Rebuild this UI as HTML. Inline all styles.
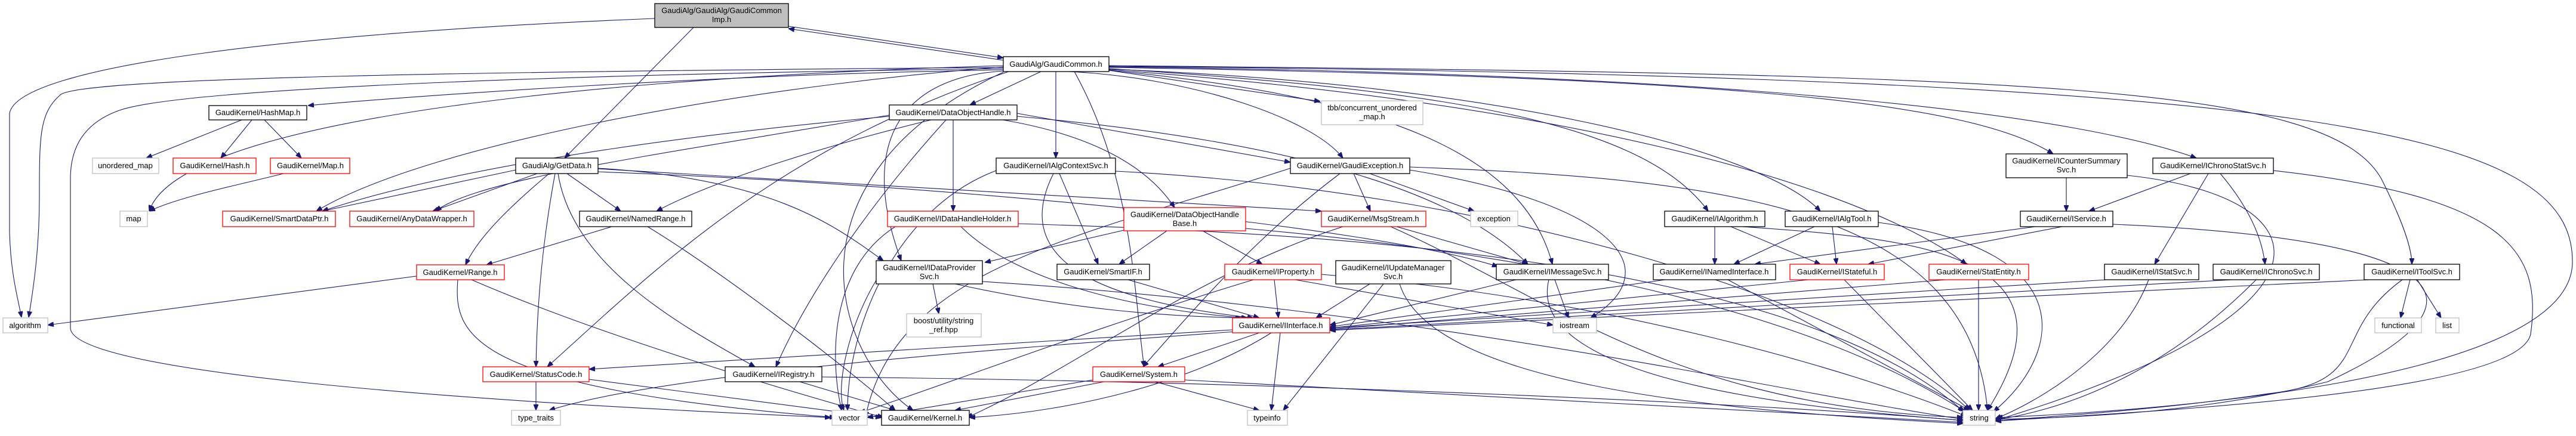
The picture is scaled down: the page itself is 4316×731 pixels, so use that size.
<!DOCTYPE html>
<html><head><meta charset="utf-8"><style>
html,body{margin:0;padding:0;background:#fff;width:4316px;height:731px;overflow:hidden}
svg{display:block}
path{fill:none;stroke:#191970;stroke-width:1.1}
rect{stroke-width:1.3}
.b{fill:#fff;stroke:#000}
.r{fill:#fff;stroke:#ff0000}
.g{fill:#fff;stroke:#bfbfbf}
text{font-family:"Liberation Sans",sans-serif;font-size:13px;fill:#000;text-anchor:middle}
</style></head><body>
<svg width="4316" height="731" viewBox="0 0 4316 731" xmlns="http://www.w3.org/2000/svg">
<defs><marker id="a" viewBox="0 0 10 8" refX="10" refY="4" markerWidth="10" markerHeight="8" markerUnits="userSpaceOnUse" orient="auto"><path d="M0,0 L10,4 L0,8 z" style="fill:#191970;stroke:#191970"/></marker></defs>
<g marker-end="url(#a)">
<!-- Imp -->
<path d="M1321,44 L1681,97"/>
<path d="M1681,101 L1321,48"/>
<path d="M1162,46 L946,265"/>
<path d="M1097,31 C500,55 30,110 16,190 L16,390 C18,460 30,500 36,532"/>
<!-- GC -->
<path d="M1681,113 C800,120 120,130 100,160 C66,190 66,230 66,330 C66,420 55,490 48,532"/>
<path d="M1681,115 C900,125 300,150 200,185 C130,210 118,260 118,300 L118,550 C120,620 700,670 1392,700"/>
<path d="M1681,117 C1200,125 700,160 516,177"/>
<path d="M1744,120 L1625,176"/>
<path d="M1769,120 L1769,265"/>
<path d="M1790,120 C2000,130 2200,200 2250,265"/>
<path d="M1858,118 L2212,170"/>
<path d="M1681,119 C1500,130 1440,250 1510,437"/>
<path d="M1681,112 C1200,150 700,250 530,354"/>
<path d="M1681,110 C1000,130 300,200 250,354"/>
<path d="M1690,120 C1300,250 1100,450 917,615"/>
<path d="M1681,121 C1300,300 1400,600 1530,688"/>
<path d="M1800,120 C1900,300 1900,500 1917,615"/>
<path d="M1858,118 C2300,160 2550,250 2601,443"/>
<path d="M1858,115 C2400,150 2750,200 2862,354"/>
<path d="M1858,116 C2500,140 2950,250 3050,354"/>
<path d="M1858,117 C2600,170 3100,300 3295,443"/>
<path d="M1858,113 C2900,130 3300,170 3440,258"/>
<path d="M1858,112 C3000,125 3500,200 3680,265"/>
<path d="M1858,110 C3400,125 3900,140 3990,300 C4030,380 4041,420 4041,443"/>
<path d="M1858,111 C3900,130 4312,220 4310,440 C4308,640 3600,690 3345,700"/>
<!-- HashMap -->
<path d="M405,201 L245,265"/>
<path d="M422,201 L370,265"/>
<path d="M443,201 L505,265"/>
<path d="M475,291 C400,310 300,330 250,354"/>
<!-- DOH -->
<path d="M1597,201 L1597,354"/>
<path d="M1680,201 C1850,230 1930,290 1968,348"/>
<path d="M1704,190 L2162,272"/>
<path d="M1560,201 C1400,240 1200,300 1100,354"/>
<path d="M1490,195 C1000,240 700,300 540,354"/>
<path d="M1490,193 C1100,260 800,300 730,354"/>
<path d="M1585,201 C1450,350 1350,500 1300,615"/>
<path d="M1704,195 C2200,240 2450,330 2560,443"/>
<!-- GetData -->
<path d="M864,285 L540,354"/>
<path d="M900,291 L725,354"/>
<path d="M950,291 L1040,354"/>
<path d="M920,291 C850,350 800,400 780,444"/>
<path d="M930,291 C910,400 900,500 898,615"/>
<path d="M935,291 C960,450 1150,550 1265,615"/>
<path d="M1002,282 C1300,300 1400,380 1480,437"/>
<path d="M1002,283 L2214,354"/>
<path d="M1002,288 C1600,310 2300,380 2510,447"/>
<!-- NamedRange, Range -->
<path d="M1025,380 L815,444"/>
<path d="M1085,380 C1200,450 1400,600 1500,688"/>
<path d="M720,460 L80,545"/>
<path d="M767,469 C760,560 780,650 1400,700"/>
<path d="M790,469 C1000,560 1300,650 1480,700"/>
<!-- StatusCode, IRegistry -->
<path d="M898,640 L898,688"/>
<path d="M987,636 L1477,700"/>
<path d="M1340,640 L1500,688"/>
<path d="M1377,632 C2200,640 3000,680 3289,705"/>
<!-- IDPS -->
<path d="M1563,476 L1573,526"/>
<path d="M1600,476 C1800,520 1950,530 2080,533"/>
<path d="M1646,472 C2400,520 3000,660 3289,703"/>
<path d="M1468,470 C1420,550 1400,650 1414,688"/>
<!-- IDHH, IAlgCtx -->
<path d="M1610,380 C1700,470 1900,520 2090,533"/>
<path d="M1500,380 C1390,450 1390,600 1410,688"/>
<path d="M1706,375 C2200,390 3000,430 3290,690"/>
<path d="M1775,291 L1840,443"/>
<path d="M1765,291 C1700,420 1800,500 2100,533"/>
<path d="M1669,286 C1500,350 1420,550 1420,688"/>
<path d="M1869,287 C2500,320 3100,500 3300,688"/>
<!-- DOHB, SmartIF, IProperty -->
<path d="M1955,387 L1875,443"/>
<path d="M2015,387 L2115,443"/>
<path d="M1883,386 L1650,440"/>
<path d="M2087,383 C2500,420 3000,500 3292,690"/>
<path d="M1890,469 L2110,533"/>
<path d="M2135,469 L2142,533"/>
<path d="M2170,469 L2602,545"/>
<path d="M2100,469 C1800,560 1600,640 1440,692"/>
<path d="M2214,460 C2700,500 3100,620 3295,698"/>
<!-- IInterface -->
<path d="M2110,558 L1940,615"/>
<path d="M2130,558 C2000,640 1800,690 1624,700"/>
<path d="M2145,558 L2130,688"/>
<path d="M2065,553 L987,619"/>
<path d="M2070,556 C1600,590 1100,630 920,688"/>
<!-- System -->
<path d="M1850,640 L1600,688"/>
<path d="M1935,640 L2110,688"/>
<path d="M1985,637 L3289,708"/>
<path d="M1831,637 L1453,700"/>
<!-- GExc -->
<path d="M2268,291 L2296,354"/>
<path d="M2295,291 L2470,354"/>
<path d="M2362,280 C2900,300 3300,350 3330,688"/>
<path d="M2362,285 C2700,340 2800,450 2665,533"/>
<path d="M2245,291 C2100,400 2000,520 1915,615"/>
<path d="M2162,282 C1800,400 1500,450 1450,700"/>
<!-- MsgStream -->
<path d="M2340,380 L2560,443"/>
<path d="M2330,380 C2600,500 2800,680 3289,700"/>
<path d="M2250,380 C2000,460 1800,620 1620,700"/>
<!-- IUMS -->
<path d="M2295,476 L2205,533"/>
<path d="M2318,476 L2150,688"/>
<path d="M2345,476 C2400,650 2900,690 3289,710"/>
<!-- IMessageSvc -->
<path d="M2540,469 L2228,545"/>
<path d="M2605,469 L2628,533"/>
<path d="M2595,469 C2550,650 3100,690 3290,705"/>
<!-- IAlgorithm, IAlgTool, INamed, IStateful, StatEntity -->
<path d="M2873,380 L2873,443"/>
<path d="M2900,380 L3050,443"/>
<path d="M2920,380 C3200,400 3500,420 3330,688"/>
<path d="M3040,380 L2905,443"/>
<path d="M3070,380 L3077,443"/>
<path d="M3147,373 C3500,420 3450,600 3340,690"/>
<path d="M2790,469 L2228,548"/>
<path d="M2895,469 L3300,688"/>
<path d="M3030,469 L2228,550"/>
<path d="M3090,469 L3305,688"/>
<path d="M3315,469 L3315,688"/>
<path d="M3260,469 L2228,552"/>
<!-- ICSS, IChronoStat, IService -->
<path d="M3462,298 L3462,354"/>
<path d="M3564,294 C3900,330 3950,520 3343,705"/>
<path d="M3670,291 L3500,354"/>
<path d="M3700,291 L3610,443"/>
<path d="M3720,291 C3770,350 3790,400 3795,443"/>
<path d="M3809,286 C4200,330 4260,420 4240,560 C4220,660 3600,690 3343,706"/>
<path d="M3410,380 L2940,443"/>
<path d="M3455,380 L3130,443"/>
<path d="M3540,376 C4100,400 4200,500 3900,640 C3700,690 3500,700 3343,703"/>
<!-- IStatSvc, IChronoSvc, IToolSvc -->
<path d="M3530,469 L2228,550"/>
<path d="M3600,469 C3550,600 3400,680 3343,702"/>
<path d="M3740,469 L2228,553"/>
<path d="M3780,469 C3650,600 3500,680 3343,704"/>
<path d="M4038,469 L4022,533"/>
<path d="M4050,469 L4090,533"/>
<path d="M3970,469 L2228,554"/>
<path d="M4025,469 C3900,560 3980,640 3800,660 C3600,690 3400,700 3343,706"/>
</g>
<!-- nodes -->
<rect x="1097" y="6" width="224" height="40" style="fill:#bfbfbf;stroke:#000"/>
<text x="1209" y="22">GaudiAlg/GaudiAlg/GaudiCommon</text><text x="1209" y="37">Imp.h</text>
<rect class="b" x="1681" y="95" width="177" height="25"/><text x="1769" y="112">GaudiAlg/GaudiCommon.h</text>
<rect class="b" x="350" y="177" width="164" height="24"/><text x="432" y="193">GaudiKernel/HashMap.h</text>
<rect class="b" x="1490" y="176" width="214" height="25"/><text x="1597" y="193">GaudiKernel/DataObjectHandle.h</text>
<rect class="g" x="2214" y="169" width="170" height="40"/><text x="2299" y="185">tbb/concurrent_unordered</text><text x="2299" y="200">_map.h</text>
<rect class="b" x="3361" y="258" width="203" height="40"/><text x="3462" y="274">GaudiKernel/ICounterSummary</text><text x="3462" y="289">Svc.h</text>
<rect class="g" x="155" y="265" width="111" height="26"/><text x="210" y="282">unordered_map</text>
<rect class="r" x="290" y="265" width="139" height="26"/><text x="360" y="282">GaudiKernel/Hash.h</text>
<rect class="r" x="453" y="265" width="133" height="26"/><text x="520" y="282">GaudiKernel/Map.h</text>
<rect class="b" x="864" y="265" width="138" height="26"/><text x="933" y="282">GaudiAlg/GetData.h</text>
<rect class="b" x="1669" y="265" width="200" height="26"/><text x="1769" y="282">GaudiKernel/IAlgContextSvc.h</text>
<rect class="b" x="2162" y="265" width="200" height="26"/><text x="2262" y="282">GaudiKernel/GaudiException.h</text>
<rect class="b" x="3607" y="265" width="202" height="26"/><text x="3708" y="282">GaudiKernel/IChronoStatSvc.h</text>
<rect class="g" x="201" y="354" width="46" height="26"/><text x="224" y="371">map</text>
<rect class="r" x="373" y="354" width="189" height="26"/><text x="468" y="371">GaudiKernel/SmartDataPtr.h</text>
<rect class="r" x="586" y="354" width="208" height="26"/><text x="690" y="371">GaudiKernel/AnyDataWrapper.h</text>
<rect class="b" x="971" y="354" width="188" height="26"/><text x="1065" y="371">GaudiKernel/NamedRange.h</text>
<rect class="r" x="1487" y="354" width="219" height="26"/><text x="1596" y="371">GaudiKernel/IDataHandleHolder.h</text>
<rect class="r" x="1883" y="348" width="204" height="39"/><text x="1985" y="364">GaudiKernel/DataObjectHandle</text><text x="1985" y="379">Base.h</text>
<rect class="r" x="2214" y="354" width="175" height="26"/><text x="2301" y="371">GaudiKernel/MsgStream.h</text>
<rect class="g" x="2464" y="354" width="79" height="26"/><text x="2503" y="371">exception</text>
<rect class="b" x="2789" y="354" width="168" height="26"/><text x="2873" y="371">GaudiKernel/IAlgorithm.h</text>
<rect class="b" x="2991" y="354" width="156" height="26"/><text x="3069" y="371">GaudiKernel/IAlgTool.h</text>
<rect class="b" x="3385" y="354" width="155" height="26"/><text x="3462" y="371">GaudiKernel/IService.h</text>
<rect class="b" x="1468" y="437" width="178" height="39"/><text x="1557" y="453">GaudiKernel/IDataProvider</text><text x="1557" y="468">Svc.h</text>
<rect class="b" x="1771" y="443" width="155" height="26"/><text x="1848" y="460">GaudiKernel/SmartIF.h</text>
<rect class="r" x="2052" y="443" width="162" height="26"/><text x="2133" y="460">GaudiKernel/IProperty.h</text>
<rect class="b" x="2238" y="437" width="193" height="39"/><text x="2334" y="453">GaudiKernel/IUpdateManager</text><text x="2334" y="468">Svc.h</text>
<rect class="b" x="2507" y="443" width="188" height="26"/><text x="2601" y="460">GaudiKernel/IMessageSvc.h</text>
<rect class="b" x="2770" y="443" width="205" height="26"/><text x="2872" y="460">GaudiKernel/INamedInterface.h</text>
<rect class="r" x="2999" y="443" width="158" height="26"/><text x="3078" y="460">GaudiKernel/IStateful.h</text>
<rect class="r" x="3232" y="443" width="167" height="26"/><text x="3315" y="460">GaudiKernel/StatEntity.h</text>
<rect class="b" x="3526" y="443" width="158" height="26"/><text x="3605" y="460">GaudiKernel/IStatSvc.h</text>
<rect class="b" x="3708" y="443" width="178" height="26"/><text x="3797" y="460">GaudiKernel/IChronoSvc.h</text>
<rect class="b" x="3961" y="443" width="160" height="26"/><text x="4041" y="460">GaudiKernel/IToolSvc.h</text>
<rect class="r" x="698" y="444" width="147" height="25"/><text x="771" y="461">GaudiKernel/Range.h</text>
<rect class="g" x="5" y="533" width="75" height="25"/><text x="42" y="550">algorithm</text>
<rect class="g" x="1519" y="526" width="125" height="39"/><text x="1581" y="542">boost/utility/string</text><text x="1581" y="557">_ref.hpp</text>
<rect class="r" x="2065" y="533" width="163" height="25"/><text x="2146" y="550">GaudiKernel/IInterface.h</text>
<rect class="g" x="2602" y="533" width="73" height="25"/><text x="2638" y="550">iostream</text>
<rect class="g" x="3979" y="533" width="78" height="25"/><text x="4018" y="550">functional</text>
<rect class="g" x="4081" y="533" width="39" height="25"/><text x="4100" y="550">list</text>
<rect class="r" x="809" y="615" width="178" height="25"/><text x="898" y="632">GaudiKernel/StatusCode.h</text>
<rect class="b" x="1215" y="615" width="162" height="25"/><text x="1296" y="632">GaudiKernel/IRegistry.h</text>
<rect class="r" x="1831" y="615" width="154" height="25"/><text x="1908" y="632">GaudiKernel/System.h</text>
<rect class="g" x="857" y="688" width="82" height="25"/><text x="898" y="705">type_traits</text>
<rect class="g" x="1394" y="688" width="59" height="25"/><text x="1423" y="705">vector</text>
<rect class="b" x="1477" y="688" width="147" height="25"/><text x="1550" y="705">GaudiKernel/Kernel.h</text>
<rect class="g" x="2090" y="688" width="67" height="25"/><text x="2123" y="705">typeinfo</text>
<rect class="g" x="3289" y="688" width="54" height="25"/><text x="3316" y="705">string</text>
</svg>
</body></html>
